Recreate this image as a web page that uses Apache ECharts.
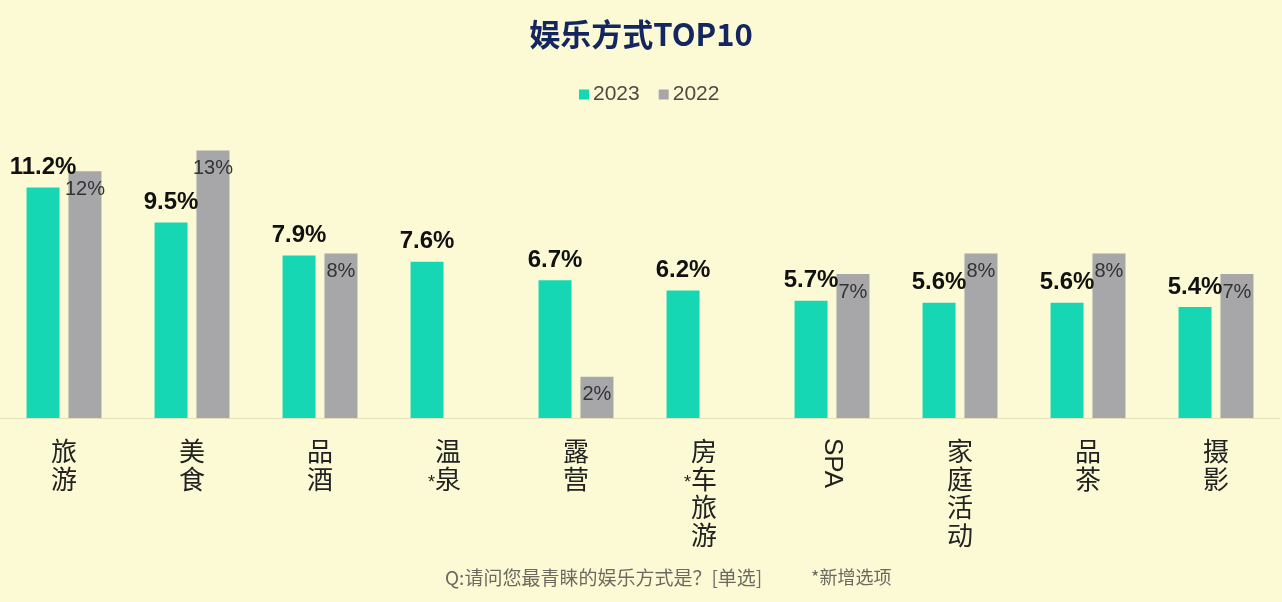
<!DOCTYPE html>
<html>
<head>
<meta charset="utf-8">
<script src="https://cdn.jsdelivr.net/npm/echarts@6/dist/echarts.min.js"></script>
<style>
html,body{margin:0;padding:0;background:#fcfad4;}
#chart{width:1282px;height:602px;}
</style>
</head>
<body>
<div id="chart"></div>
<script>
const categories = ['旅游','美食','品酒','温泉','露营','房车旅游','SPA','家庭活动','品茶','摄影'];
const newOptions = ['温泉','房车旅游'];
const rotatedCategories = ['SPA'];
const values2023 = [11.2, 9.5, 7.9, 7.6, 6.7, 6.2, 5.7, 5.6, 5.6, 5.4];
const values2022 = [12, 13, 8, null, 2, null, 7, 8, 8, 7];
const seriesNames = ['2023', '2022'];

const FONT = '"Liberation Sans", "Noto Sans CJK SC", sans-serif';
const CJK = '"Noto Sans CJK SC", "Liberation Sans", sans-serif';

function catLabel(v) {
  if (rotatedCategories.indexOf(v) >= 0) return '';
  const chars = v.split('');
  if (newOptions.indexOf(v) >= 0) {
    return chars.map((c, i) => (i === 1 ? '{s|*}' : '{h|*}') + '{c|' + c + '}{h|*}').join('\n');
  }
  return chars.map(c => '{c|' + c + '}').join('\n');
}

const chart = echarts.init(document.getElementById('chart'));
chart.setOption({
  backgroundColor: '#fcfad4',
  animation: false,
  title: [
    { text: '娱乐方式TOP10', left: 'center', top: 14,
      textStyle: { fontFamily: CJK, fontSize: 31, fontWeight: 'bold', color: '#142660' } },
    { text: 'Q:请问您最青睐的娱乐方式是？[单选]', left: 440, top: 563,
      textStyle: { fontFamily: CJK, fontSize: 19, fontWeight: 'normal', color: '#6a6a60' } },
    { text: '*新增选项', left: 806, top: 563,
      textStyle: { fontFamily: CJK, fontSize: 18, fontWeight: 'normal', color: '#6a6a60' } }
  ],
  legend: {
    data: seriesNames, left: 574, top: 79, itemWidth: 10, itemHeight: 10, itemGap: 19,
    icon: 'rect',
    textStyle: { fontFamily: FONT, fontSize: 21, color: '#4a4a44', padding: [0,0,0,-1] }
  },
  grid: { left: 0, right: 2, top: 130, bottom: 184 },
  xAxis: [
    {
      type: 'category', data: categories,
      axisLine: { show: true, lineStyle: { color: '#e4e0bc', width: 1 } },
      axisTick: { show: false },
      axisLabel: {
        interval: 0, margin: 19, formatter: catLabel,
        rich: {
          c: { fontFamily: CJK, fontSize: 26, lineHeight: 28, color: '#222' },
          h: { fontFamily: FONT, fontSize: 18, lineHeight: 28, color: 'rgba(0,0,0,0)' },
          s: { fontFamily: FONT, fontSize: 18, lineHeight: 28, color: '#222', padding: [8,0,0,0] }
        }
      }
    },
    {
      type: 'category', data: categories, position: 'bottom',
      axisLine: { show: false }, axisTick: { show: false }, splitLine: { show: false },
      axisLabel: {
        interval: 0, margin: 20, rotate: -90,
        fontFamily: FONT, fontSize: 26, color: '#222',
        formatter: v => rotatedCategories.indexOf(v) >= 0 ? v : ''
      }
    }
  ],
  yAxis: { type: 'value', min: 0, max: 14, show: false, splitLine: { show: false } },
  series: [
    {
      name: seriesNames[0], type: 'bar', data: values2023, barWidth: 33, barGap: '27%',
      itemStyle: { color: '#16d7b4' },
      label: { show: true, position: 'top', distance: 8, formatter: '{c}%',
        fontFamily: FONT, fontSize: 24, fontWeight: 'bold', color: '#111' }
    },
    {
      name: seriesNames[1], type: 'bar', data: values2022, barWidth: 33,
      itemStyle: { color: '#a7a7a9' },
      label: { show: true, position: 'insideTop', distance: 8, formatter: '{c}%',
        fontFamily: FONT, fontSize: 20, color: '#333' }
    }
  ]
});
</script>
</body>
</html>
